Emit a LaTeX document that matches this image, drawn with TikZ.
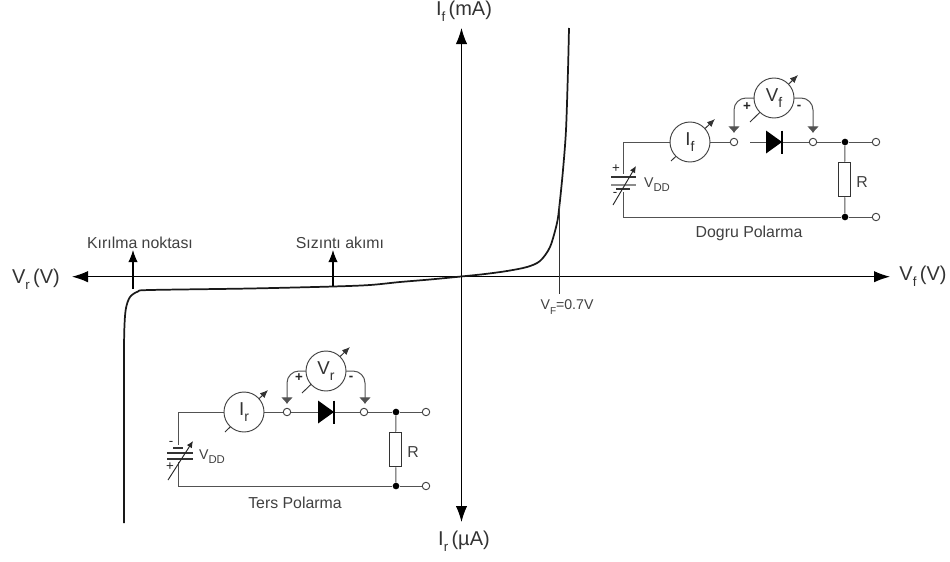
\documentclass[tikz,border=0pt]{standalone}
\usepackage{fontspec}
\setmainfont{Liberation Sans}
\usetikzlibrary{arrows.meta,backgrounds}
\newcommand{\sbs}[2]{\raisebox{-0.3em}{\fontsize{#1}{#1}\selectfont #2}}
\tikzset{
  wire/.style={line width=0.75pt,black!68},
  axisline/.style={line width=0.8pt,black,{Latex[length=12pt,width=8.5pt]}-{Latex[length=12pt,width=8.5pt]}},
  curveline/.style={line width=1.3pt,black!90,line join=round},
  meter/.style={circle,draw=black!75,line width=0.7pt,fill=white,minimum size=30pt,inner sep=0pt,text=black!80,font=\fontsize{14}{14}\selectfont},
  needle/.style={line width=0.7pt,black!80,-{Latex[length=6pt,width=5pt]}},
  term/.style={circle,draw=black!75,line width=0.7pt,fill=white,minimum size=5.6pt,inner sep=0pt},
  junction/.style={circle,fill=black,minimum size=5pt,inner sep=0pt},
  resistor/.style={rectangle,draw=black!80,line width=0.7pt,fill=white,minimum width=9.6pt,minimum height=26pt,inner sep=0pt},
  probe/.style={wire,rounded corners=9pt,-{Latex[length=5pt,width=9pt]}},
  callout/.style={line width=0.8pt,black,-{Latex[length=9pt,width=7pt]}},
  lbl/.style={inner sep=0pt,text=black!75,font=\fontsize{11.9}{11.9}\selectfont},
  vlbl/.style={inner sep=0pt,text=black!75,font=\fontsize{10.6}{10.6}\selectfont},
  sign/.style={inner sep=0pt,text=black!85,font=\fontsize{10}{10}\selectfont},
  axlbl/.style={inner sep=0pt,text=black!80,font=\fontsize{15}{15}\selectfont},
  diodetri/.style={fill=black,draw=none},
  plate/.style={line width=0.8pt,black!80},
  batarrow/.style={line width=0.7pt,black!85,-{Latex[length=5pt,width=4.5pt]}},
}
\begin{document}
\begin{tikzpicture}[x=0.75pt,y=-0.75pt]
\useasboundingbox (0,0) rectangle (950,561);
% axes
\coordinate (xl) at (72,276.7); \coordinate (xr) at (890,276.7);
\coordinate (yt) at (461.5,28); \coordinate (yb) at (461.5,522);
\draw[axisline] (xl) -- (xr);
\draw[axisline] (yb) -- (yt);
\node[axlbl] (lIf) at (464,11) {I\sbs{10}{f}\,(mA)};
\node[axlbl] (lIr) at (464,541) {I\sbs{10}{r}\,(µA)};
\node[axlbl] (lVr) at (36,279) {V\sbs{10}{r}\,(V)};
\node[axlbl] (lVf) at (923,276) {V\sbs{10}{f}\,(V)};
% characteristic curve
\draw[curveline] plot[smooth,tension=0.5] coordinates {(569,28) (568,70) (566,130) (563,170) (559.5,205) (557,223) (550,247) (540,261) (527,267) (507,271) (485,274) (461,276.5) (430,279.5) (400,282) (370,285) (333,286.5) (250,288.5) (150,290) (138,291.5) (130,297) (126,308) (124.5,325) (124,360) (124,523)};
% VF mark
\coordinate (vfa) at (559.6,205); \coordinate (vfb) at (559.6,294);
\draw[line width=1pt,black!80] (vfa) -- (vfb);
\node[vlbl] (lvf) at (567,307) {V\sbs{7.5}{F}=0.7V};
% call-outs
\coordinate (ka) at (133,289); \coordinate (kb) at (133,250);
\coordinate (sa) at (333,286); \coordinate (sb) at (333,250);
\draw[callout] (ka) -- (kb);
\draw[callout] (sa) -- (sb);
\node[lbl] (lk) at (140,243) {Kırılma noktası};
\node[lbl] (ls) at (340,243) {Sızıntı akımı};

% ---------- forward circuit ----------
\node[meter] (If) at (690,142) {I\sbs{10.5}{f}};
\node[meter] (Vf) at (774,98) {V\sbs{10.5}{f}};
\node[term] (ft1) at (734,142) {};
\node[term] (ft2) at (813,142) {};
\node[term] (ft3) at (876,142) {};
\node[term] (ft4) at (876,217) {};
\node[junction] (fj1) at (845,142) {};
\node[junction] (fj2) at (845,217) {};
\node[resistor] (fR) at (844.5,179.5) {};
\coordinate (fa) at (766,142); \coordinate (fk) at (782,142);
\coordinate (fd) at (750,142);
\coordinate (fw1) at (623,142); \coordinate (fw2) at (623,217);
\begin{scope}[on background layer]
\draw[wire] (If) -- (fw1) -- (fw2) -- (fj2) -- (ft4);
\draw[wire] (If) -- (ft1);
\draw[wire] (fd) -- (fa);
\draw[wire] (fk) -- (ft2);
\draw[wire] (ft2) -- (fj1) -- (ft3);
\draw[wire] (fj1) -- (fR) -- (fj2);
\draw[probe] (Vf.center) -| (734,133);
\draw[probe] (Vf.center) -| (813,133);
\draw[needle] (671,161) -- (715,119);
\draw[needle] (750,122) -- (798,75);
\end{scope}
\fill[diodetri] (766,130.5) -- (782,142) -- (766,153.5) -- cycle;
\draw[line width=0.8pt,black] (782,130.5) -- (782,153.5);
\node[sign] (fp) at (747,107) {\textbf{+}};
\node[sign] (fm) at (799,107) {\textbf{-}};
\node[lbl] (fR1) at (862,182) {R};
\fill[white] (609,174) rectangle (638,192);
\draw[plate] (611,177) -- (636,177);
\draw[plate,black!45] (611,185) -- (636,185);
\draw[plate] (616,189) -- (630,189);
\draw[batarrow] (613,205) -- (636,166);
\node[sign] (fbp) at (616,169) {+};
\node[sign] (fbm) at (615,194) {-};
\node[vlbl] (fvdd) at (657,185) {V\sbs{8.5}{DD}};
\node[lbl] (fname) at (749,233) {Dogru Polarma};

% ---------- reverse circuit ----------
\node[meter] (Ir) at (244,412) {I\sbs{10.5}{r}};
\node[meter] (Vr) at (326,371) {V\sbs{10.5}{r}};
\node[term] (rt1) at (287,412) {};
\node[term] (rt2) at (364,412) {};
\node[term] (rt3) at (426,412) {};
\node[term] (rt4) at (426,486) {};
\node[junction] (rj1) at (396,412) {};
\node[junction] (rj2) at (396,486) {};
\node[resistor] (rR) at (395.5,449.5) {};
\coordinate (rw1) at (178,412); \coordinate (rw2) at (178,486);
\coordinate (ra) at (318,412); \coordinate (rk) at (334,412);
\begin{scope}[on background layer]
\draw[wire] (Ir) -- (rw1) -- (rw2) -- (rj2) -- (rt4);
\draw[wire] (Ir) -- (rt1);
\draw[wire] (rt1) -- (ra);
\draw[wire] (rk) -- (rt2);
\draw[wire] (rt2) -- (rj1) -- (rt3);
\draw[wire] (rj1) -- (rR) -- (rj2);
\draw[probe] (Vr.center) -| (287,404);
\draw[probe] (Vr.center) -| (365,404);
\draw[needle] (225,432) -- (268,390);
\draw[needle] (302,393) -- (350,347);
\end{scope}
\fill[diodetri] (318,400.5) -- (334,412) -- (318,423.5) -- cycle;
\draw[line width=0.8pt,black] (334,400.5) -- (334,423.5);
\node[sign] (rp) at (299,378) {\textbf{+}};
\node[sign] (rm) at (351,378) {\textbf{-}};
\node[lbl] (rR1) at (413,452) {R};
\fill[white] (165,445) rectangle (195,462);
\draw[plate] (173,448) -- (183,448);
\draw[plate] (167,453) -- (193,453);
\draw[plate] (167,459) -- (193,459);
\draw[batarrow] (168,480) -- (193,441);
\node[sign] (rbm) at (171,443) {-};
\node[sign] (rbp) at (170,467) {+};
\node[vlbl] (rvdd) at (212,457) {V\sbs{8.5}{DD}};
\node[lbl] (rname) at (295,503) {Ters Polarma};
\end{tikzpicture}
\end{document}
